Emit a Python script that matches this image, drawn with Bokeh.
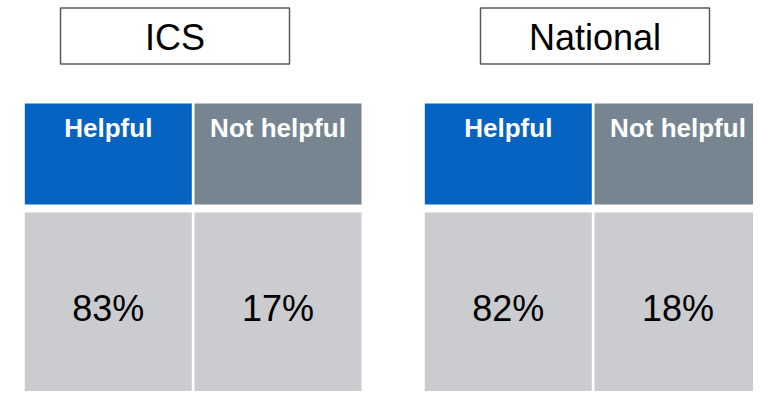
from bokeh.plotting import figure
from bokeh.models import Range1d, ColumnDataSource
from bokeh.embed import file_html
from bokeh.resources import INLINE
from bokeh.core.properties import value

# ---- data ----
panels = ["ICS", "National"]
columns = ["Helpful", "Not helpful"]
ics_values = [83, 17]
national_values = [82, 18]
panel_values = [ics_values, national_values]

# ---- styles / layout ----
header_colors = ["#0563C1", "#778591"]
cell_color = "#CBCCD0"
W, H = 753, 391
panel_left = [24.3, 424.3]
cell_w = 167.0
cell_gap = 2.7
head_top, head_bot = 103, 204
data_top, data_bot = 212, 410
box_cx = [174.5, 594.5]
box_w = 229
box_top, box_bot = 7.5, 63.5
FONT = "Liberation Sans"

hl, hr, hc, hx, ht = [], [], [], [], []
vt = []
bl, br, bx, bt = [], [], [], []
for i, panel in enumerate(panels):
    for j, col in enumerate(columns):
        left = panel_left[i] + j * (cell_w + cell_gap)
        hl.append(left)
        hr.append(left + cell_w)
        hc.append(header_colors[j])
        hx.append(left + cell_w / 2)
        ht.append(col)
        vt.append(f"{panel_values[i][j]}%")
    bl.append(box_cx[i] - box_w / 2)
    br.append(box_cx[i] + box_w / 2)
    bx.append(box_cx[i])
    bt.append(panel)

p = figure(width=W, height=H, x_range=Range1d(0, W), y_range=Range1d(H, 0),
           toolbar_location=None, output_backend="svg", min_border=0,
           x_axis_type=None, y_axis_type=None)
p.outline_line_color = None
p.grid.visible = False
p.background_fill_color = "white"

cells = ColumnDataSource(dict(left=hl, right=hr, color=hc, x=hx, text=ht, vtext=vt))
p.quad(left="left", right="right", top=head_top, bottom=head_bot,
       fill_color="color", line_color=None, source=cells)
p.quad(left="left", right="right", top=data_top, bottom=data_bot,
       fill_color=cell_color, line_color=None, source=cells)
p.text(x="x", y=127, text="text", source=cells, text_align="center",
       text_baseline="alphabetic", text_color="white",
       text_font=value(FONT), text_font_style="bold", text_font_size="26px")
p.text(x="x", y=308, text="vtext", source=cells, text_align="center",
       text_baseline="alphabetic", text_color="black",
       text_font=value(FONT), text_font_size="36px")

boxes = ColumnDataSource(dict(left=bl, right=br, x=bx, text=bt))
p.quad(left="left", right="right", top=box_top, bottom=box_bot,
       fill_color="white", line_color="#595959", line_width=1.5, source=boxes)
p.text(x="x", y=37, text="text", source=boxes, text_align="center",
       text_baseline="alphabetic", text_color="black",
       text_font=value(FONT), text_font_size="36px")

open("out.html", "w").write(file_html(p, INLINE))
